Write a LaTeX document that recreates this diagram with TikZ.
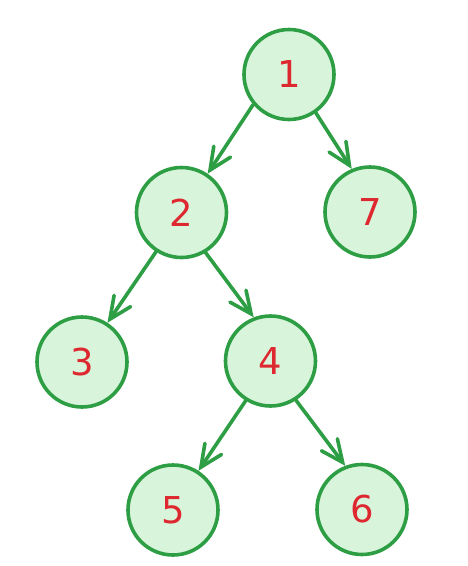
\documentclass[tikz,border=0pt]{standalone}
\usepackage{fontspec}
\setmainfont{DejaVu Sans}
\usetikzlibrary{arrows.meta}
\definecolor{gstroke}{RGB}{46,158,68}
\definecolor{gfill}{RGB}{216,245,220}
\definecolor{tred}{RGB}{222,40,48}
\begin{document}
\begin{tikzpicture}[x=1pt,y=-1pt,
  vnode/.style={circle,draw=gstroke,fill=gfill,line width=3.6pt,minimum size=90pt,inner sep=0pt,
    text=tred,font=\fontsize{37}{40}\selectfont},
  edge/.style={draw=gstroke,line width=3.6pt,line cap=round,-{Straight Barb[length=22pt,width=20pt,line cap=round]}}]
\useasboundingbox (0,0) rectangle (467,566);
\node[vnode] (n1) at (289,74.5) {1};
\node[vnode] (n2) at (181.5,212.5) {2};
\node[vnode] (n7) at (370,212) {7};
\node[vnode] (n3) at (82,362) {3};
\node[vnode] (n4) at (270.5,361) {4};
\node[vnode] (n5) at (173,510) {5};
\node[vnode] (n6) at (362,509.5) {6};
\draw[edge] (n1.220) -- (n2.56);
\draw[edge] (n1.305) -- (n7.113);
\draw[edge] (n2.237) -- (n3.57);
\draw[edge] (n2.301) -- (n4.111);
\draw[edge] (n4.238) -- (n5.57);
\draw[edge] (n4.303) -- (n6.111);
\end{tikzpicture}
\end{document}
